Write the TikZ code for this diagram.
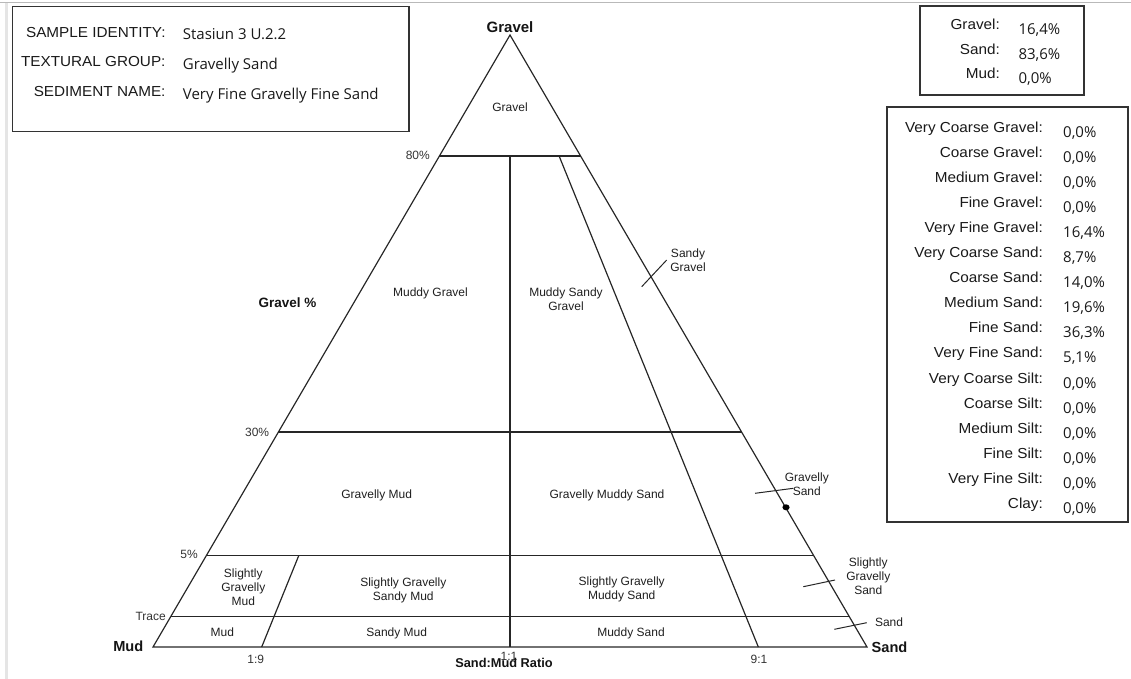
\documentclass[tikz,border=0pt]{standalone}
\usepackage{fontspec}
\setmainfont{Liberation Sans}
\newfontfamily\valfont{Open Sans}
\newfontfamily\hdrfont{Liberation Sans}[FakeStretch=1.055]
\usetikzlibrary{calc}

\begin{document}
\begin{tikzpicture}[x=1pt,y=-1pt,
  edge/.style={line width=1.2pt, draw=black!85},
  frame/.style={line width=1.3pt, draw=black!80},
  hdr/.style={font=\hdrfont\fontsize{14.5}{17}\selectfont, text=black!90, inner sep=0pt, anchor=base east},
  val/.style={font=\valfont\fontsize{15}{17}\selectfont, text=black!90, inner sep=0pt, anchor=base west},
  region/.style={font=\fontsize{12}{13.8}\selectfont, align=center, inner sep=0pt, anchor=base, text=black!88},
  tick/.style={font=\fontsize{12}{14}\selectfont, inner sep=0pt, text=black!80},
  corner/.style={font=\bfseries\fontsize{14.6}{17}\selectfont, inner sep=0pt, anchor=base, text=black!92},
  leader/.style={line width=1pt, draw=black!85}
]
\useasboundingbox (0,0) rectangle (1131,679);

% window edges
\draw[gray!55, line width=1.5pt] (0,2.5) -- (1131,2.5);
\draw[gray!20, line width=3pt] (6.5,3) -- (6.5,679);

% ternary frame
\coordinate (G) at (510,35);
\coordinate (M) at (153,647);
\coordinate (S) at (867,647);
\draw[edge, line join=miter] (G) -- (M) -- (S) -- cycle;

% gravel percentage lines (80%, 30%, 5%, trace)
\foreach \t/\n in {0.8023/g80, 0.3513/g30, 0.1495/g5, 0.0498/gtr} {
  \coordinate (\n l) at ($(M)!\t!(G)$);
  \coordinate (\n r) at ($(S)!\t!(G)$);
  \draw[edge] (\n l) -- (\n r);
}

% sand:mud ratio lines
\coordinate (r19) at ($(M)!0.1522!(S)$);
\coordinate (r11) at ($(M)!0.5!(S)$);
\coordinate (r91) at ($(M)!0.8478!(S)$);
\coordinate (r19t) at ($(r19)!0.1495!(G)$);
\coordinate (r11t) at ($(r11)!0.8023!(G)$);
\coordinate (r91t) at ($(r91)!0.8023!(G)$);
\draw[edge] (r19) -- (r19t);
\draw[edge] (r11) -- (r11t);
\draw[edge] (r91) -- (r91t);

% sample point
\fill[black] (786,507.3) ellipse [x radius=3.6, y radius=3];

% leader lines for the narrow fields
\coordinate (lsg1) at (641.7,286.7); \coordinate (lsg2) at (666.7,260);
\coordinate (lgs1) at (755,493.3);   \coordinate (lgs2) at (793.3,488.3);
\coordinate (lsgs1) at (803.3,586.7); \coordinate (lsgs2) at (835,580);
\coordinate (ls1) at (834.3,629.3);  \coordinate (ls2) at (866.7,622.7);
\draw[leader] (lsg1) -- (lsg2);
\draw[leader] (lgs1) -- (lgs2);
\draw[leader] (lsgs1) -- (lsgs2);
\draw[leader] (ls1) -- (ls2);

% field names (base anchor = baseline of the last line)
\node[region] (fgr) at (510,112) {Gravel};
\node[region] (fmg) at (430.5,296.5) {Muddy Gravel};
\node[region] (fmsg) at (566,310) {Muddy Sandy\\Gravel};
\node[region] (fsg) at (688,271.7) {Sandy\\Gravel};
\node[region] (fgm) at (376.7,498.3) {Gravelly Mud};
\node[region] (fgms) at (607,498.3) {Gravelly Muddy Sand};
\node[region] (fgs) at (806.8,495) {Gravelly\\Sand};
\node[region] (fsgm) at (243.3,605) {Slightly\\Gravelly\\Mud};
\node[region] (fsgsm) at (403.3,600) {Slightly Gravelly\\Sandy Mud};
\node[region] (fsgms) at (621.7,599) {Slightly Gravelly\\Muddy Sand};
\node[region] (fsgs) at (868.3,594) {Slightly\\Gravelly\\Sand};
\node[region] (fm) at (222.3,636.7) {Mud};
\node[region] (fsm) at (396.7,636.7) {Sandy Mud};
\node[region] (fms) at (631,636.7) {Muddy Sand};
\node[region] (fs) at (889,626) {Sand};

% axis ticks and titles
\node[tick, anchor=base east] (t80) at (430,159.5) {80\%};
\node[tick, anchor=base east] (t30) at (269.3,436) {30\%};
\node[tick, anchor=base east] (t5) at (198,558.3) {5\%};
\node[tick, anchor=base east] (ttr) at (166,620) {Trace};
\node[tick, anchor=base] (t19) at (255.8,663) {1:9};
\node[tick, anchor=base] (t11) at (509,660) {1:1};
\node[tick, anchor=base] (t91) at (759,663) {9:1};
\node[corner, font=\bfseries\fontsize{13.5}{16}\selectfont] (gpc) at (287.5,307.5) {Gravel \%};
\node[corner, font=\bfseries\fontsize{12.8}{15}\selectfont] (smr) at (504,667.7) {Sand:Mud Ratio};
\node[corner, font=\bfseries\fontsize{15}{17}\selectfont] (cg) at (510,33) {Gravel};
\node[corner] (cm) at (128.3,651.7) {Mud};
\node[corner] (cs) at (889.5,652.7) {Sand};

% sample description box
\draw[frame] (12.7,6.7) rectangle (409,131.7);
\node[hdr] (hid) at (165.7,37.7) {SAMPLE IDENTITY:};
\node[hdr] (hgr) at (165.7,66.7) {TEXTURAL GROUP:};
\node[hdr] (hnm) at (165.7,96.7) {SEDIMENT NAME:};
\node[val] (vid) at (182.7,40) {Stasiun 3 U.2.2};
\node[val] (vgr) at (182.7,70) {Gravelly Sand};
\node[val] (vnm) at (182.7,100) {Very Fine Gravelly Fine Sand};

% main fractions box
\draw[frame] (920,6) rectangle (1084,95);
\foreach \lab/\val [count=\i from 0] in {{Gravel:}/{16,4\%}, {Sand:}/{83,6\%}, {Mud:}/{0,0\%}} {
  \node[hdr] (ml\i) at (1000, 30+24.2*\i) {\lab};
  \node[val] (mv\i) at (1018.3, 35+24.2*\i) {\val};
}

% grain size fractions box
\draw[frame] (887,107) rectangle (1128,522);
\foreach \lab/\val [count=\i from 0] in {
  {Very Coarse Gravel:}/{0,0\%}, {Coarse Gravel:}/{0,0\%}, {Medium Gravel:}/{0,0\%},
  {Fine Gravel:}/{0,0\%}, {Very Fine Gravel:}/{16,4\%}, {Very Coarse Sand:}/{8,7\%},
  {Coarse Sand:}/{14,0\%}, {Medium Sand:}/{19,6\%}, {Fine Sand:}/{36,3\%},
  {Very Fine Sand:}/{5,1\%}, {Very Coarse Silt:}/{0,0\%}, {Coarse Silt:}/{0,0\%},
  {Medium Silt:}/{0,0\%}, {Fine Silt:}/{0,0\%}, {Very Fine Silt:}/{0,0\%}, {Clay:}/{0,0\%}} {
  \node[hdr] (fl\i) at (1043, 132.3+25.07*\i) {\lab};
  \node[val] (fv\i) at (1063, 137.3+25.07*\i) {\val};
}
\end{tikzpicture}
\end{document}
